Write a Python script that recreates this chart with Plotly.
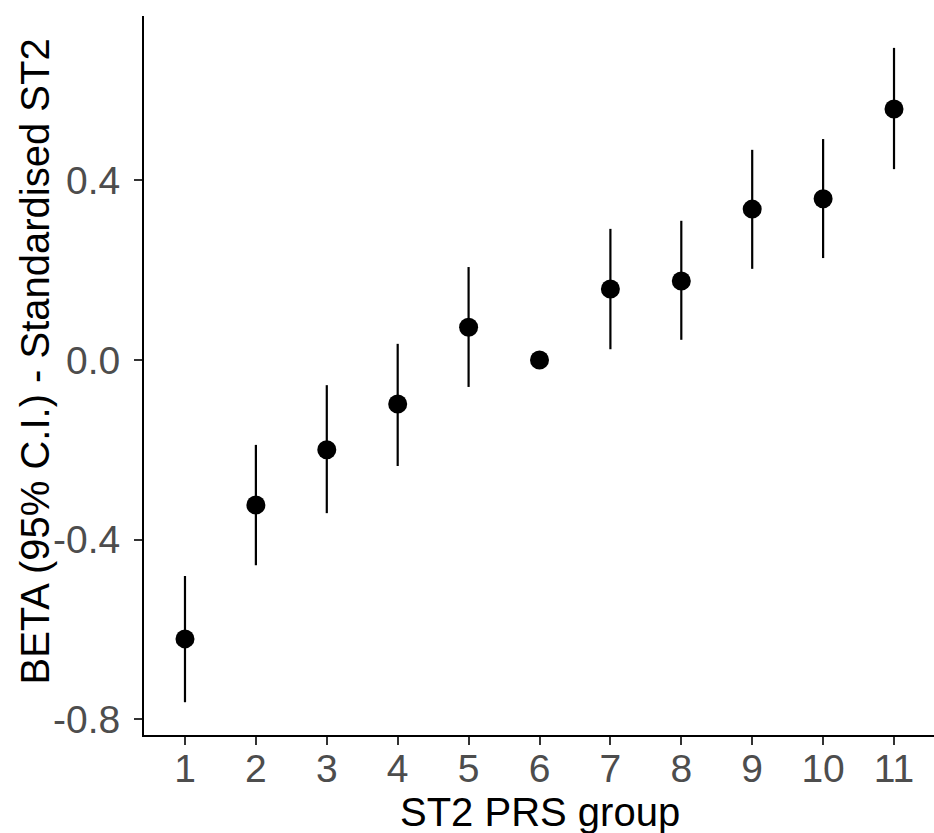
import plotly.graph_objects as go

groups = [1, 2, 3, 4, 5, 6, 7, 8, 9, 10, 11]
beta = [-0.621, -0.323, -0.200, -0.098, 0.073, 0.0, 0.158, 0.176, 0.336, 0.359, 0.559]
ci_low = [-0.762, -0.457, -0.341, -0.236, -0.060, 0.0, 0.024, 0.045, 0.203, 0.227, 0.425]
ci_high = [-0.481, -0.189, -0.056, 0.036, 0.207, 0.0, 0.292, 0.310, 0.468, 0.492, 0.695]

err_plus = [h - b for h, b in zip(ci_high, beta)]
err_minus = [b - l for b, l in zip(beta, ci_low)]

FONT = "Arial, Liberation Sans, sans-serif"

fig = go.Figure()
fig.add_trace(go.Scatter(
    x=groups, y=beta, mode="markers",
    marker=dict(color="black", size=19),
    error_y=dict(type="data", symmetric=False, array=err_plus, arrayminus=err_minus,
                 color="black", thickness=2.2, width=0),
    showlegend=False,
))

W, H = 934, 833
L, R, T, B = 144, 0, 16, 98
pw, ph = W - L - R, H - T - B

fig.update_layout(
    width=W, height=H,
    margin=dict(l=L, r=R, t=T, b=B),
    paper_bgcolor="white", plot_bgcolor="white",
    font=dict(family=FONT),
    xaxis=dict(
        range=[0.422, 11.564], tickmode="array", tickvals=groups,
        ticktext=[str(g) for g in groups],
        showgrid=False, zeroline=False,
        showline=True, linecolor="black", linewidth=2,
        ticks="outside", ticklen=8, tickwidth=2, tickcolor="#333333",
        ticklabelstandoff=-10,
        tickfont=dict(size=39, color="#4D4D4D", family=FONT),
    ),
    yaxis=dict(
        range=[-0.835, 0.766], tickmode="array", tickvals=[-0.8, -0.4, 0.0, 0.4],
        ticktext=["-0.8", "-0.4", "0.0", "0.4"],
        showgrid=False, zeroline=False,
        showline=True, linecolor="black", linewidth=2,
        ticks="outside", ticklen=8, tickwidth=2, tickcolor="#333333",
        ticklabelstandoff=6,
        tickfont=dict(size=39, color="#4D4D4D", family=FONT),
    ),
    annotations=[
        dict(text="ST2 PRS group", xref="paper", yref="paper",
             x=(540 - L) / pw, y=(H - B - 812) / ph, xanchor="center", yanchor="middle",
             showarrow=False, font=dict(size=40, color="black", family=FONT)),
        dict(text="BETA (95% C.I.) - Standardised ST2", xref="paper", yref="paper",
             x=(34 - L) / pw, y=(H - B - 361.5) / ph, xanchor="center", yanchor="middle",
             textangle=-90, showarrow=False,
             font=dict(size=40, color="black", family=FONT)),
    ],
)

fig.write_html("out.html", config={"displayModeBar": False})

with open("out.html", "r", encoding="utf-8") as f:
    html = f.read()
html = html.replace("<head>", "<head><style>html,body{margin:0;padding:0;overflow:hidden;}</style>", 1)
with open("out.html", "w", encoding="utf-8") as f:
    f.write(html)
